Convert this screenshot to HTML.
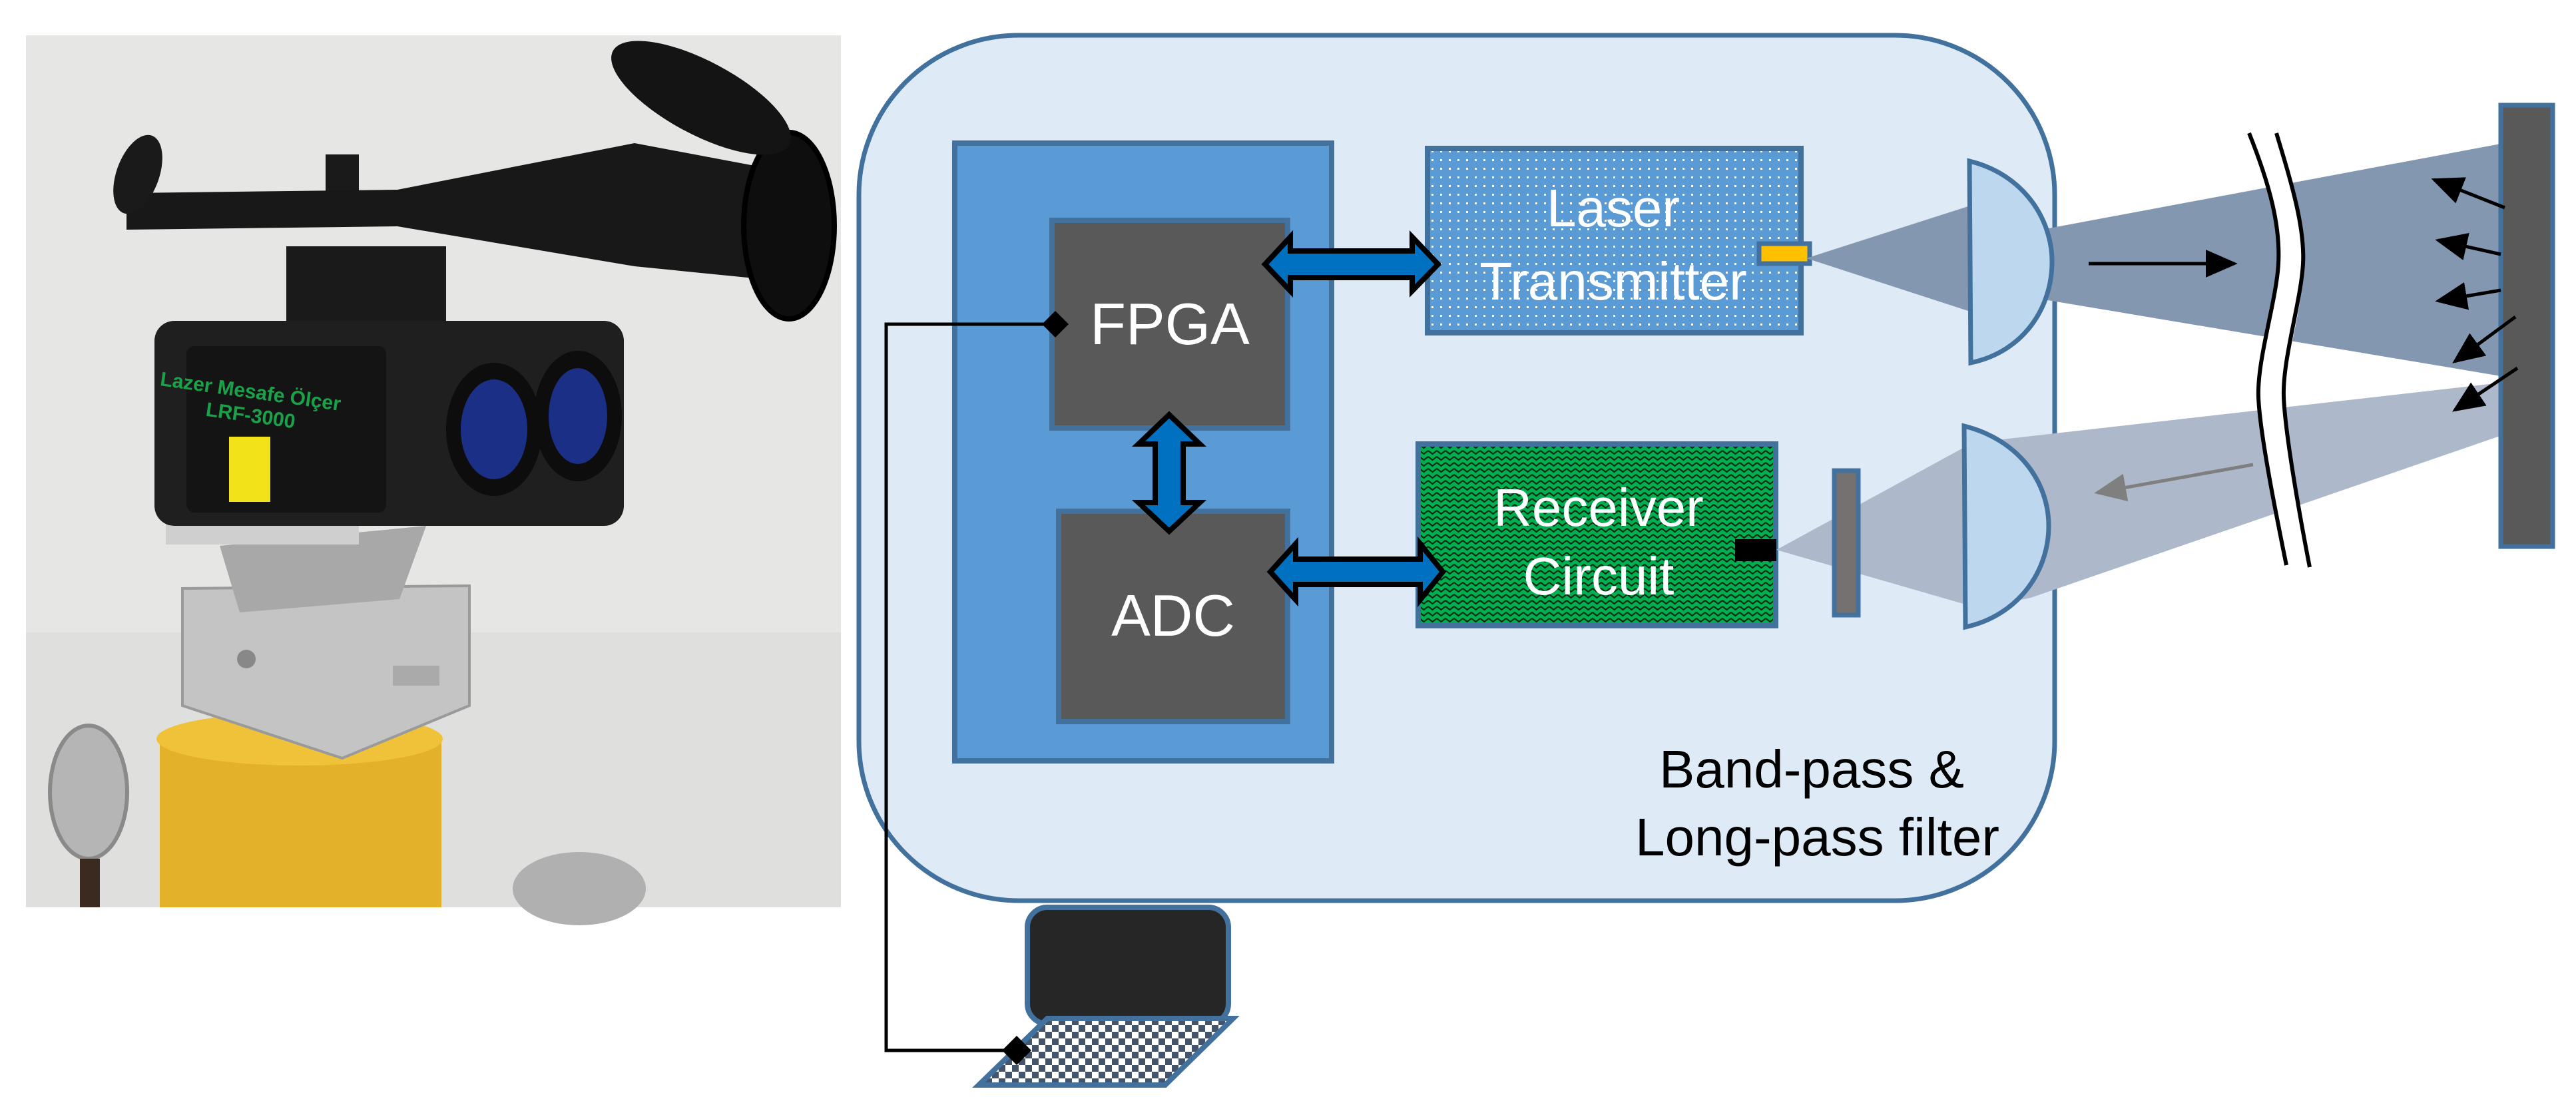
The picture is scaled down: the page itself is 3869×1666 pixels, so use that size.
<!DOCTYPE html>
<html><head><meta charset="utf-8"><style>
html,body{margin:0;padding:0;background:#fff;}
svg{display:block;}
text{font-family:"Liberation Sans",sans-serif;}
</style></head><body>
<svg width="3869" height="1666" viewBox="0 0 3869 1666" xmlns="http://www.w3.org/2000/svg">
<defs>
<pattern id="dots" width="13" height="13" patternUnits="userSpaceOnUse">
<rect width="13" height="13" fill="#5b9bd5"/><rect x="5" y="5" width="3" height="3" fill="#fff"/>
</pattern>
<pattern id="zig" width="13" height="9" patternUnits="userSpaceOnUse">
<rect width="13" height="9" fill="#00b050"/><polyline points="0,2 6.5,7 13,2" fill="none" stroke="#0a2a14" stroke-width="2.2"/>
</pattern>
<pattern id="kb" width="20" height="20" patternUnits="userSpaceOnUse">
<rect width="20" height="20" fill="#fff"/><rect width="10" height="10" fill="#44546a"/><rect x="10" y="10" width="10" height="10" fill="#44546a"/>
</pattern>
<marker id="ahb" viewBox="0 0 10 10" refX="9" refY="5" markerWidth="48" markerHeight="42" orient="auto" markerUnits="userSpaceOnUse" preserveAspectRatio="none">
<path d="M0,0 L10,5 L0,10 Z" fill="#000"/></marker>
<marker id="ahg" viewBox="0 0 10 10" refX="9" refY="5" markerWidth="48" markerHeight="42" orient="auto" markerUnits="userSpaceOnUse" preserveAspectRatio="none">
<path d="M0,0 L10,5 L0,10 Z" fill="#7f7f7f"/></marker>
</defs>

<!-- Photo -->
<rect x="39" y="53" width="1224" height="1310" fill="#e6e6e4"/>
<rect x="39" y="950" width="1224" height="413" fill="#dfdfdd"/>
<!-- yellow base -->
<path d="M240,1110 L663,1110 L663,1363 L240,1363 Z" fill="#e3b22a"/>
<ellipse cx="450" cy="1110" rx="215" ry="40" fill="#efc23a"/>
<!-- knobs -->
<ellipse cx="133" cy="1190" rx="58" ry="100" fill="#b5b5b5" stroke="#8a8a8a" stroke-width="6"/>
<ellipse cx="870" cy="1335" rx="100" ry="55" fill="#b0b0b0"/>
<rect x="120" y="1290" width="30" height="73" fill="#3a2a20"/>
<!-- bracket -->
<path d="M274,884 L705,880 L705,1060 L514,1139 L274,1060 Z" fill="#c4c4c4" stroke="#9a9a9a" stroke-width="4"/>
<path d="M330,820 L640,790 L600,900 L360,920 Z" fill="#a8a8a8"/>
<rect x="249" y="768" width="290" height="50" fill="#cfcfcf"/>
<circle cx="370" cy="990" r="14" fill="#888"/>
<rect x="590" y="1000" width="70" height="30" fill="#aaa"/>
<!-- body -->
<rect x="232" y="482" width="705" height="308" rx="30" fill="#1f1f1f"/>
<rect x="280" y="520" width="300" height="250" rx="12" fill="#141414"/>
<text x="375" y="598" font-size="30" font-weight="bold" fill="#1aa24a" text-anchor="middle" transform="rotate(8 375 598)">Lazer Mesafe Ölçer</text>
<text x="375" y="634" font-size="30" font-weight="bold" fill="#1aa24a" text-anchor="middle" transform="rotate(8 375 634)">LRF-3000</text>
<rect x="344" y="656" width="62" height="98" fill="#f2e21a"/>
<ellipse cx="742" cy="645" rx="72" ry="100" fill="#0d0d0d"/>
<ellipse cx="742" cy="645" rx="50" ry="75" fill="#1c2f86"/>
<ellipse cx="868" cy="625" rx="66" ry="98" fill="#0d0d0d"/>
<ellipse cx="868" cy="625" rx="44" ry="72" fill="#1c2f86"/>
<!-- mount -->
<rect x="430" y="370" width="240" height="112" fill="#1a1a1a"/>
<rect x="489" y="232" width="50" height="65" fill="#1a1a1a"/>
<!-- scope -->
<path d="M190,290 L597,285 L953,215 L1202,262 L1202,425 L953,400 L597,340 L190,345 Z" fill="#181818"/>
<ellipse cx="1185" cy="339" rx="68" ry="140" fill="#0e0e0e" stroke="#000" stroke-width="8"/>
<ellipse cx="207" cy="262" rx="32" ry="62" fill="#1a1a1a" transform="rotate(20 207 262)"/>
<ellipse cx="1053" cy="147" rx="150" ry="55" fill="#141414" transform="rotate(28 1053 147)"/>

<!-- Outer housing -->
<rect x="1290" y="53" width="1796" height="1300" rx="240" fill="#deebf7" stroke="#41719c" stroke-width="7"/>
<rect x="1434" y="215" width="566" height="928" fill="#5b9bd5" stroke="#41719c" stroke-width="8"/>
<rect x="1580" y="331" width="354" height="312" fill="#595959" stroke="#41719c" stroke-width="8"/>
<rect x="1590" y="768" width="344" height="316" fill="#595959" stroke="#41719c" stroke-width="8"/>
<text x="1757" y="517" font-size="88" fill="#fff" text-anchor="middle">FPGA</text>
<text x="1762" y="955" font-size="88" fill="#fff" text-anchor="middle">ADC</text>

<rect x="2144" y="223" width="561" height="277" fill="url(#dots)" stroke="#41719c" stroke-width="8"/>
<text x="2423" y="340" font-size="80" fill="#fff" text-anchor="middle">Laser</text>
<text x="2423" y="450" font-size="80" fill="#fff" text-anchor="middle">Transmitter</text>
<rect x="2642" y="366" width="76" height="30" fill="#ffc000" stroke="#41719c" stroke-width="7"/>

<rect x="2130" y="667" width="537" height="273" fill="url(#zig)" stroke="#41719c" stroke-width="8"/>
<text x="2401" y="790" font-size="80" fill="#fff" text-anchor="middle">Receiver</text>
<text x="2401" y="893" font-size="80" fill="#fff" text-anchor="middle">Circuit</text>
<rect x="2606" y="810" width="62" height="33" fill="#000"/>

<polygon points="2713,388 2956,310 2956,467" fill="#8497b0"/>
<polygon points="2668,826 2952,671 2952,908" fill="#adb9ca"/>
<rect x="2755" y="707" width="36" height="217" fill="#767171" stroke="#41719c" stroke-width="7"/>

<polygon points="3040,350 3756,216 3756,565 3040,445" fill="#8497b0"/>
<polygon points="2990,662 3756,575 3772,649 3050,898 2990,910" fill="#adb9ca"/>

<path d="M2958,242 C3040,262 3082,330 3082,393 C3082,462 3040,528 2960,545 Z" fill="#bdd7ee" stroke="#41719c" stroke-width="7"/>
<path d="M2950,640 C3030,660 3077,722 3077,790 C3077,860 3030,925 2952,942 Z" fill="#bdd7ee" stroke="#41719c" stroke-width="7"/>

<path d="M3378,200 C3410,280 3425,340 3422,396 S3390,540 3392,596 S3420,780 3434,849 L3469,852 C3455,780 3428,650 3430,596 S3462,450 3459,396 S3440,270 3419,200 Z" fill="#fff"/>
<path d="M3378,200 C3410,280 3425,340 3422,396 S3390,540 3392,596 S3420,780 3434,849" fill="none" stroke="#000" stroke-width="6"/>
<path d="M3419,200 C3440,270 3462,340 3459,396 S3428,540 3430,596 S3455,780 3469,852" fill="none" stroke="#000" stroke-width="6"/>

<rect x="3756" y="158" width="78" height="663" fill="#595959" stroke="#41719c" stroke-width="7"/>

<line x1="3137" y1="396" x2="3356" y2="396" stroke="#000" stroke-width="5" marker-end="url(#ahb)"/>
<line x1="3762" y1="312" x2="3656" y2="270" stroke="#000" stroke-width="5" marker-end="url(#ahb)"/>
<line x1="3756" y1="382" x2="3662" y2="361" stroke="#000" stroke-width="5" marker-end="url(#ahb)"/>
<line x1="3756" y1="436" x2="3662" y2="452" stroke="#000" stroke-width="5" marker-end="url(#ahb)"/>
<line x1="3778" y1="476" x2="3687" y2="543" stroke="#000" stroke-width="5" marker-end="url(#ahb)"/>
<line x1="3781" y1="553" x2="3687" y2="616" stroke="#000" stroke-width="5" marker-end="url(#ahb)"/>
<line x1="3384" y1="698" x2="3150" y2="740" stroke="#7f7f7f" stroke-width="5" marker-end="url(#ahg)"/>

<polygon points="1900,397 1938,356 1938,377 2121,377 2121,356 2160,397 2121,437 2121,417 1938,417 1938,437" fill="#0070c0" stroke="#000" stroke-width="8"/>
<polygon points="1756,623 1802,667 1777,667 1777,755 1802,755 1756,798 1710,755 1735,755 1735,667 1710,667" fill="#0070c0" stroke="#000" stroke-width="8"/>
<polygon points="1908,859 1946,817 1946,840 2133,840 2133,817 2167,859 2133,901 2133,878 1946,878 1946,901" fill="#0070c0" stroke="#000" stroke-width="8"/>

<text x="2950" y="1183" font-size="80" fill="#000" text-anchor="end">Band-pass &amp;</text>
<text x="3003" y="1285" font-size="80" fill="#000" text-anchor="end">Long-pass filter</text>

<rect x="1543" y="1363" width="302" height="175" rx="30" fill="#262626" stroke="#41719c" stroke-width="8"/>
<polygon points="1573,1530 1852,1530 1750,1630 1470,1630" fill="url(#kb)" stroke="#41719c" stroke-width="8"/>

<polyline points="1585,487 1331,487 1331,1578 1527,1578" fill="none" stroke="#000" stroke-width="5"/>
<polygon points="1585,467 1605,487 1585,507 1565,487" fill="#000"/>
<polygon points="1527,1556 1549,1578 1527,1600 1505,1578" fill="#000"/>
</svg>
</body></html>
